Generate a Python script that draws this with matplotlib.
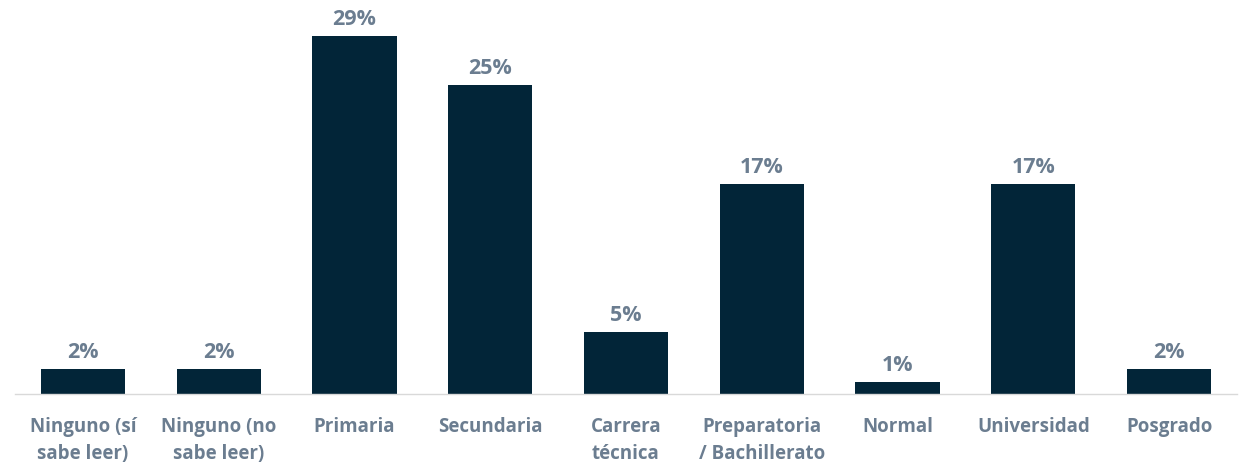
import matplotlib.pyplot as plt

categorias = ['Ninguno (sí\nsabe leer)', 'Ninguno (no\nsabe leer)', 'Primaria', 'Secundaria',
              'Carrera\ntécnica', 'Preparatoria\n/ Bachillerato', 'Normal', 'Universidad', 'Posgrado']
porcentajes = [2, 2, 29, 25, 5, 17, 1, 17, 2]

color_barra = '#022538'
color_texto = '#6B7D90'

plt.rcParams['font.family'] = ['Open Sans', 'DejaVu Sans']

fig = plt.figure(figsize=(12.45, 4.64), dpi=100)
ax = fig.add_axes([15 / 1245, 69 / 464, 1222 / 1245, 395 / 464])

x = range(len(categorias))
barras = ax.bar(x, porcentajes, width=0.62, color=color_barra)

for b, v in zip(barras, porcentajes):
    ax.annotate(f'{v}%', (b.get_x() + b.get_width() / 2, v), xytext=(0, 5),
                textcoords='offset points', ha='center', va='bottom',
                fontsize=15.5, fontweight='bold', color=color_texto)

ax.set_xlim(-0.5, len(categorias) - 0.5)
ax.set_ylim(0, 32)
ax.set_xticks(list(x))
ax.set_xticklabels(categorias, fontsize=13.5, fontweight='bold', color=color_texto,
                   linespacing=1.45, va='top')
ax.tick_params(axis='x', length=0, pad=16)
ax.set_yticks([])
for lado in ['top', 'right', 'left']:
    ax.spines[lado].set_visible(False)
ax.spines['bottom'].set_color('#D9D9D9')
ax.spines['bottom'].set_linewidth(1)

fig.savefig('out.png', dpi=100)
